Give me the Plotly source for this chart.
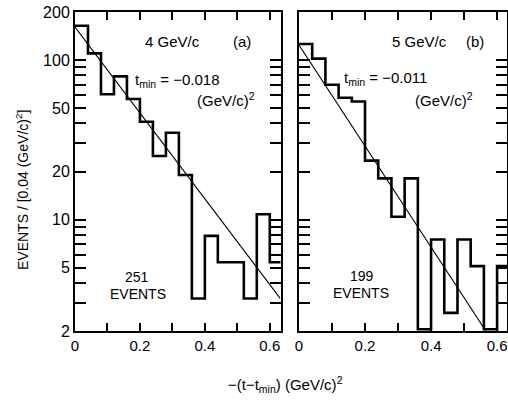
import plotly.graph_objects as go

# ---- data ----
bin_edges = [0.00, 0.04, 0.08, 0.12, 0.16, 0.20, 0.24, 0.28, 0.32,
             0.36, 0.40, 0.44, 0.48, 0.52, 0.56, 0.60, 0.64]
counts_a = [164, 110, 61, 79, 57, 41, 25, 35, 19, 3.2, 7.9, 5.4, 5.4, 3.2, 10.8, 5.4]
counts_b = [126, 102, 70, 58, 55, 23.4, 18.1, 10.4, 18.1, 2.05, 7.5, 2.6, 7.5, 5.1, 2.05, 5.1]
fit_a_x = [0.0, 0.632]
fit_a_y = [161, 3.2]
fit_b_x = [0.0, 0.566]
fit_b_y = [124, 2.0]
x_labelvals = [0, 0.2, 0.4, 0.6]
x_labeltext = ["0", "0.2", "0.4", "0.6"]
x_minorvals = [0.1, 0.3, 0.5]
y_labelvals = [2, 5, 10, 20, 50, 100, 200]
y_minorvals = [3, 4, 6, 7, 8, 9, 30, 40, 60, 70, 80, 90]

W, H = 508, 402
FONT = "Liberation Sans"
INK = "black"


def px(x):
    return x / W


def py(y):
    return 1 - y / H


fig = go.Figure()

for i, (counts, fx, fy) in enumerate([(counts_a, fit_a_x, fit_a_y),
                                      (counts_b, fit_b_x, fit_b_y)]):
    xa = "x" if i == 0 else "x2"
    ya = "y" if i == 0 else "y2"
    fig.add_trace(go.Scatter(
        x=bin_edges, y=list(counts) + [counts[-1]], mode="lines",
        line=dict(shape="hv", color=INK, width=2.6),
        xaxis=xa, yaxis=ya, showlegend=False, hoverinfo="skip"))
    fig.add_trace(go.Scatter(
        x=fx, y=fy, mode="lines", line=dict(color=INK, width=1.1),
        xaxis=xa, yaxis=ya, showlegend=False, hoverinfo="skip"))

common_x = dict(
    tickmode="array", tickvals=x_labelvals, ticktext=x_labeltext,
    ticks="inside", ticklen=8, tickwidth=1.5, tickcolor=INK,
    minor=dict(tickmode="array", tickvals=x_minorvals, ticks="inside",
               ticklen=8, tickwidth=1.5, tickcolor=INK, showgrid=False),
    showline=True, linecolor=INK, linewidth=2, mirror="ticks",
    showgrid=False, zeroline=False, automargin=False,
    tickfont=dict(family=FONT, size=15, color=INK),
)
common_y = dict(
    type="log", range=[0.30103, 2.30103],
    tickmode="array", tickvals=y_labelvals, ticktext=[str(v) for v in y_labelvals],
    ticks="inside", ticklen=11, tickwidth=1.5, tickcolor=INK,
    minor=dict(tickmode="array", tickvals=y_minorvals, ticks="inside",
               ticklen=11, tickwidth=1.5, tickcolor=INK, showgrid=False),
    showline=True, linecolor=INK, linewidth=2, mirror="ticks",
    showgrid=False, zeroline=False, automargin=False,
    tickfont=dict(family=FONT, size=16, color=INK),
    domain=[py(331), py(12)],
)

fig.update_layout(
    width=W, height=H, template="none",
    margin=dict(l=0, r=0, t=0, b=0),
    paper_bgcolor="white", plot_bgcolor="white",
    xaxis=dict(common_x, domain=[px(75), px(280.5)], range=[0, 0.633], anchor="y"),
    xaxis2=dict(common_x, domain=[px(299), px(507)], range=[0, 0.63], anchor="y2"),
    yaxis=dict(common_y, anchor="x"),
    yaxis2=dict(common_y, anchor="x2", showticklabels=False),
    font=dict(family=FONT, color=INK),
)

ann = [
    # panel a
    ("4 GeV/c", 172, 42, 15),
    ("(a)", 242, 42, 15),
    ("t<sub>min</sub> = \u22120.018", 177, 80, 15),
    ("(GeV/c)<sup>2</sup>", 226, 100, 15),
    ("251", 137, 277, 14),
    ("EVENTS", 138, 294, 14),
    # panel b
    ("5 GeV/c", 419, 42, 15),
    ("(b)", 475, 42, 15),
    ("t<sub>min</sub> = \u22120.011", 385, 78, 15),
    ("(GeV/c)<sup>2</sup>", 444, 100, 15),
    ("199", 362, 276, 14),
    ("EVENTS", 361, 293, 14),
    # axis title
    ("\u2212(t\u2212t<sub>min</sub>) (GeV/c)<sup>2</sup>", 285, 384, 15),
]
for text, x, y, s in ann:
    fig.add_annotation(text=text, x=px(x), y=py(y), xref="paper", yref="paper",
                       showarrow=False, xanchor="center", yanchor="middle",
                       font=dict(family=FONT, size=s, color=INK))

fig.add_annotation(text="EVENTS / [0.04 (GeV/c)<sup>2</sup>]", textangle=-90,
                   x=px(22), y=py(190), xref="paper", yref="paper",
                   showarrow=False, xanchor="center", yanchor="middle",
                   font=dict(family=FONT, size=14, color=INK))

fig.write_html("out.html")
